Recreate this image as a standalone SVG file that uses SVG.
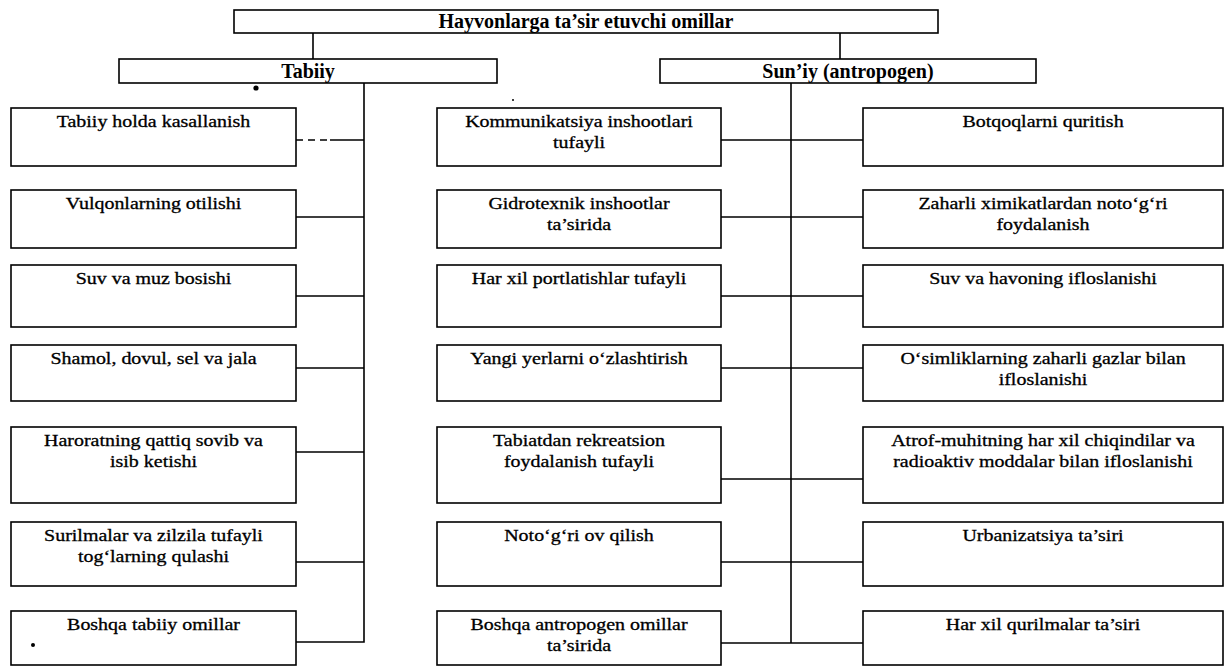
<svg xmlns="http://www.w3.org/2000/svg" width="1227" height="666" viewBox="0 0 1227 666">
<style>
.box{fill:#fff;stroke:#000;stroke-width:1.6}
.t{font-family:"Liberation Serif","Times New Roman",serif;font-size:16.5px;text-anchor:middle;fill:#000;stroke:#000;stroke-width:0.3}
.h{font-family:"Liberation Serif","Times New Roman",serif;font-size:20px;font-weight:bold;text-anchor:middle;fill:#000}
.conn{stroke:#000;stroke-width:1.6;fill:none}
.dot{fill:#000}
</style>
<rect width="1227" height="666" fill="#fff"/>
<g id="connectors">
<path class="conn" d="M313 33V59M840 33V59"/>
<path class="conn" d="M364 83V642H296"/>
<path class="conn" d="M296 140H330" stroke-dasharray="7 5"/>
<path class="conn" d="M330 140H364M296 217H364M296 296H364M296 368H364M296 452H364M296 562H364"/>
<path class="conn" d="M791 83V643"/>
<path class="conn" d="M721 140H863M721 217H863M721 296H863M721 368H863M721 479H863M721 562H863M721 643H863"/>
</g>
<g id="root"><rect class="box" x="234" y="10" width="704" height="23"/><text class="h" x="586" y="28">Hayvonlarga ta’sir etuvchi omillar</text></g>
<g id="tabiiy"><rect class="box" x="119" y="59" width="378" height="24"/><text class="h" x="308" y="78">Tabiiy</text></g>
<g id="suniy"><rect class="box" x="660" y="59" width="376" height="24"/><text class="h" x="848" y="78">Sun’iy (antropogen)</text></g>
<circle class="dot" cx="256" cy="88" r="2.6"/>
<circle class="dot" cx="513" cy="100" r="1"/>

<g id="l1"><rect class="box" x="11" y="108" width="285" height="58"/><text class="t" transform="translate(153.5 127) scale(1.21 1)">Tabiiy holda kasallanish</text></g>
<g id="l2"><rect class="box" x="11" y="190" width="285" height="58"/><text class="t" transform="translate(153.5 209) scale(1.21 1)">Vulqonlarning otilishi</text></g>
<g id="l3"><rect class="box" x="11" y="265" width="285" height="62"/><text class="t" transform="translate(153.5 284) scale(1.21 1)">Suv va muz bosishi</text></g>
<g id="l4"><rect class="box" x="11" y="345" width="285" height="56"/><text class="t" transform="translate(153.5 364) scale(1.21 1)">Shamol, dovul, sel va jala</text></g>
<g id="l5"><rect class="box" x="11" y="427" width="285" height="76"/><text class="t" transform="translate(153.5 446) scale(1.21 1)"><tspan x="0">Haroratning qattiq sovib va</tspan><tspan x="0" dy="21">isib ketishi</tspan></text></g>
<g id="l6"><rect class="box" x="11" y="522" width="285" height="64"/><text class="t" transform="translate(153.5 541) scale(1.21 1)"><tspan x="0">Surilmalar va zilzila tufayli</tspan><tspan x="0" dy="21">tog‘larning qulashi</tspan></text></g>
<g id="l7"><rect class="box" x="11" y="611" width="285" height="54"/><text class="t" transform="translate(153.5 630) scale(1.21 1)">Boshqa tabiiy omillar</text><circle class="dot" cx="33" cy="645" r="2"/></g>

<g id="m1"><rect class="box" x="437" y="108" width="284" height="58"/><text class="t" transform="translate(579 127) scale(1.21 1)"><tspan x="0">Kommunikatsiya inshootlari</tspan><tspan x="0" dy="21">tufayli</tspan></text></g>
<g id="m2"><rect class="box" x="437" y="190" width="284" height="58"/><text class="t" transform="translate(579 209) scale(1.21 1)"><tspan x="0">Gidrotexnik inshootlar</tspan><tspan x="0" dy="21">ta’sirida</tspan></text></g>
<g id="m3"><rect class="box" x="437" y="265" width="284" height="62"/><text class="t" transform="translate(579 284) scale(1.21 1)">Har xil portlatishlar tufayli</text></g>
<g id="m4"><rect class="box" x="437" y="345" width="284" height="56"/><text class="t" transform="translate(579 364) scale(1.21 1)">Yangi yerlarni o‘zlashtirish</text></g>
<g id="m5"><rect class="box" x="437" y="427" width="284" height="76"/><text class="t" transform="translate(579 446) scale(1.21 1)"><tspan x="0">Tabiatdan rekreatsion</tspan><tspan x="0" dy="21">foydalanish tufayli</tspan></text></g>
<g id="m6"><rect class="box" x="437" y="522" width="284" height="64"/><text class="t" transform="translate(579 541) scale(1.21 1)">Noto‘g‘ri ov qilish</text></g>
<g id="m7"><rect class="box" x="437" y="611" width="284" height="54"/><text class="t" transform="translate(579 630) scale(1.21 1)"><tspan x="0">Boshqa antropogen omillar</tspan><tspan x="0" dy="21">ta’sirida</tspan></text></g>

<g id="r1"><rect class="box" x="863" y="108" width="360" height="58"/><text class="t" transform="translate(1043 127) scale(1.21 1)">Botqoqlarni quritish</text></g>
<g id="r2"><rect class="box" x="863" y="190" width="360" height="58"/><text class="t" transform="translate(1043 209) scale(1.21 1)"><tspan x="0">Zaharli ximikatlardan noto‘g‘ri</tspan><tspan x="0" dy="21">foydalanish</tspan></text></g>
<g id="r3"><rect class="box" x="863" y="265" width="360" height="62"/><text class="t" transform="translate(1043 284) scale(1.21 1)">Suv va havoning ifloslanishi</text></g>
<g id="r4"><rect class="box" x="863" y="345" width="360" height="56"/><text class="t" transform="translate(1043 364) scale(1.21 1)"><tspan x="0">O‘simliklarning zaharli gazlar bilan</tspan><tspan x="0" dy="21">ifloslanishi</tspan></text></g>
<g id="r5"><rect class="box" x="863" y="427" width="360" height="76"/><text class="t" transform="translate(1043 446) scale(1.21 1)"><tspan x="0">Atrof-muhitning har xil chiqindilar va</tspan><tspan x="0" dy="21">radioaktiv moddalar bilan ifloslanishi</tspan></text></g>
<g id="r6"><rect class="box" x="863" y="522" width="360" height="64"/><text class="t" transform="translate(1043 541) scale(1.21 1)">Urbanizatsiya ta’siri</text></g>
<g id="r7"><rect class="box" x="863" y="611" width="360" height="54"/><text class="t" transform="translate(1043 630) scale(1.21 1)">Har xil qurilmalar ta’siri</text></g>
</svg>
